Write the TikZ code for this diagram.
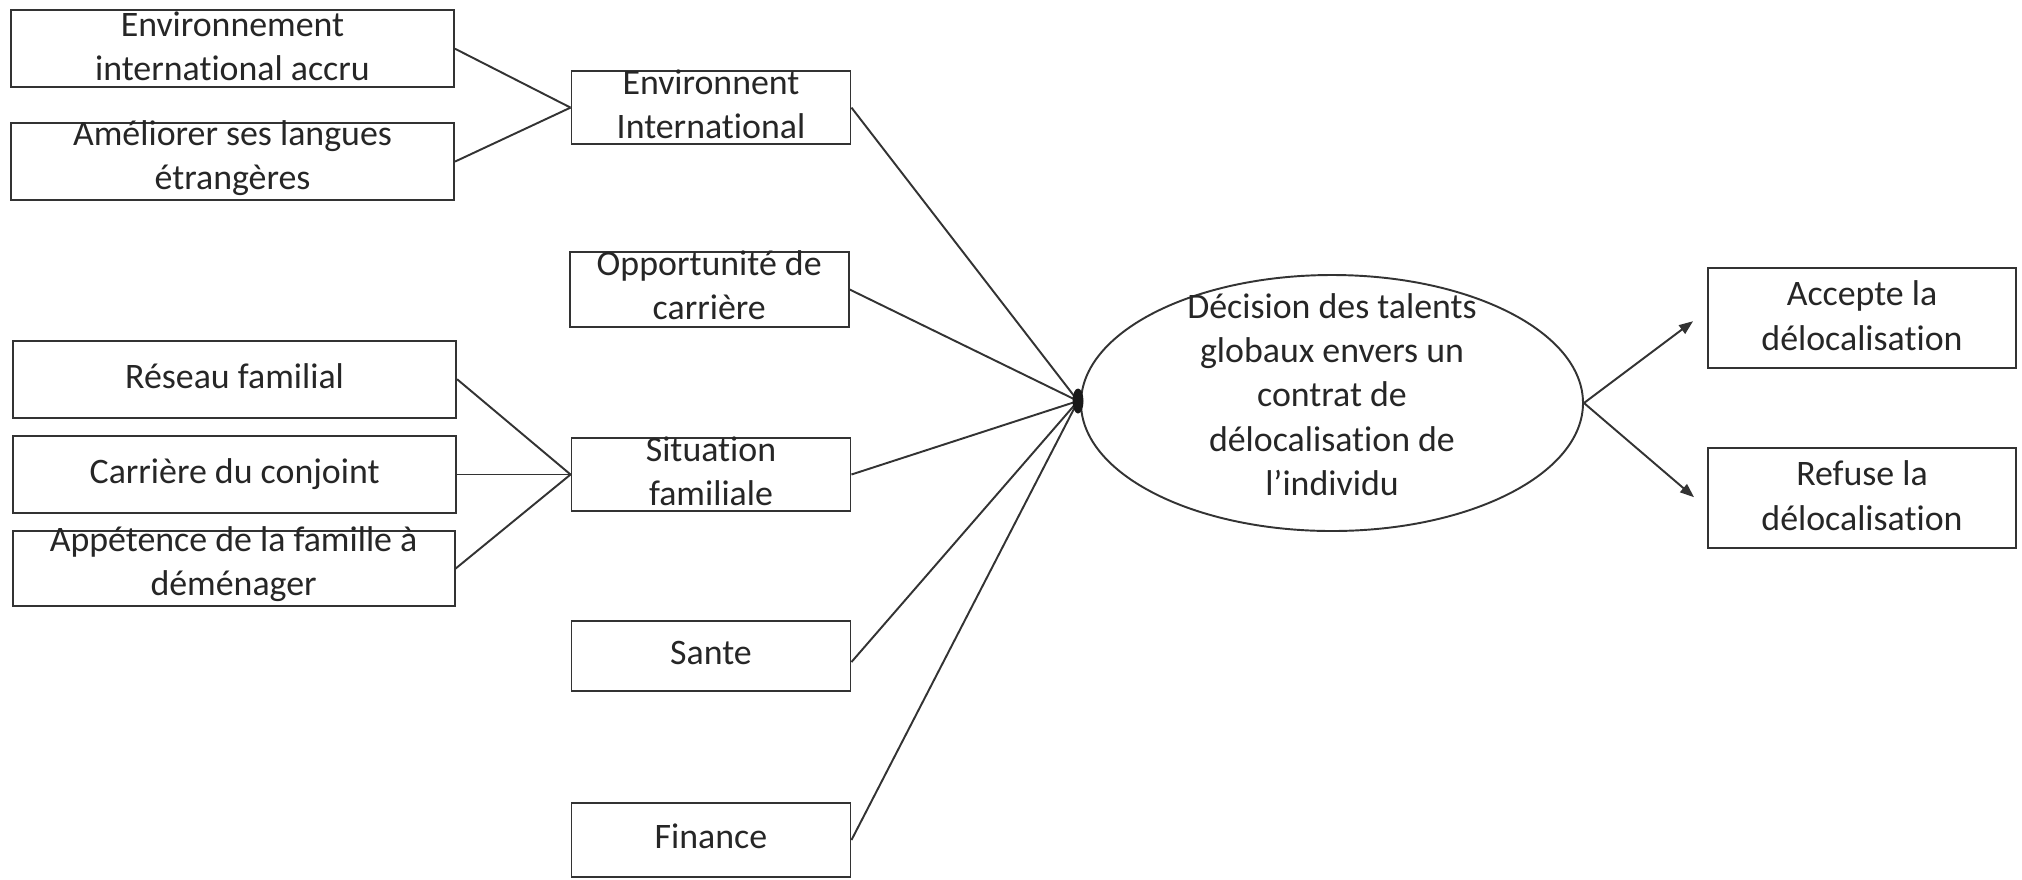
\documentclass[tikz,border=0pt]{standalone}
\usepackage{fontspec}
\setmainfont{Carlito}[Ligatures=NoCommon]
\usetikzlibrary{shapes.geometric,arrows.meta,calc}
\definecolor{ln}{HTML}{333333}
\definecolor{tx}{HTML}{262626}
\begin{document}
\begin{tikzpicture}[x=0.1mm,y=-0.1mm,
  txt/.style={align=center, text=tx, inner sep=0pt, font=\fontsize{10.2pt}{12.6pt}\selectfont,
              execute at begin node=\strut, execute at end node=\strut},
  box/.style={draw=ln, line width=0.55pt, inner sep=0pt},
  wbox/.style={box, minimum width=44.3mm},
  mbox/.style={box, minimum width=27.9mm},
  rbox/.style={box, minimum width=30.8mm, minimum height=9.95mm},
  conn/.style={draw=ln, line width=0.55pt},
  arr/.style={conn, -{Triangle[length=1.4mm,width=1.05mm]}},
]
\useasboundingbox (0,0) rectangle (2022,879);

% left column boxes
\node[wbox, minimum height=7.74mm] (a1) at (232.5,48.7) {};
\node[wbox, minimum height=7.67mm] (a2) at (232.5,161.6) {};
\node[wbox, minimum height=7.68mm] (c1) at (234.6,379.2) {};
\node[wbox, minimum height=7.70mm] (c2) at (234.6,474.5) {};
\node[wbox, minimum width=44.2mm, minimum height=7.46mm] (c3) at (233.6,568.6) {};
\node[txt] (a1t) at ($(a1.center)+(0,4)$) {Environnement\\international accru};
\node[txt] (a2t) at (a2.center) {Améliorer ses langues\\étrangères};
\node[txt] (c1t) at (c1.center) {Réseau familial};
\node[txt] (c2t) at (c2.center) {Carrière du conjoint};
\node[txt] (c3t) at ($(c3.center)+(0,-1)$) {Appétence de la famille à\\déménager};

% middle column boxes
\node[mbox, minimum height=7.28mm] (b1) at (711,107.6) {};
\node[mbox, minimum height=7.46mm] (b2) at (709.2,289.5) {};
\node[mbox, minimum height=7.23mm] (b3) at (711,474.5) {};
\node[mbox, minimum height=7.00mm] (b4) at (711,656) {};
\node[mbox, minimum height=7.43mm] (b5) at (711,840) {};
\node[txt] (b1t) at ($(b1.center)+(0,3)$) {Environnent\\International};
\node[txt] (b2t) at ($(b2.center)+(0,2.5)$) {Opportunité de\\carrière};
\node[txt] (b3t) at ($(b3.center)+(0,3)$) {Situation\\familiale};
\node[txt] (b4t) at (b4.center) {Sante};
\node[txt] (b5t) at (b5.center) {Finance};

% central ellipse
\node[draw=ln, line width=0.55pt, ellipse, minimum width=50.2mm, minimum height=25.6mm, inner sep=0pt] (ell) at (1332,403) {};
\node[txt] (elltext) at ($(ell.center)+(0,-2)$) {Décision des talents\\globaux envers un\\contrat de\\délocalisation de\\l’individu};

% right column
\node[rbox] (d1) at (1862,318.2) {};
\node[rbox] (d2) at (1862,498.2) {};
\node[txt] (d1t) at ($(d1.center)+(0,4)$) {Accepte la\\délocalisation};
\node[txt] (d2t) at ($(d2.center)+(0,4)$) {Refuse la\\délocalisation};

% connectors left -> middle
\draw[conn] (a1.east) -- (b1.west);
\draw[conn] (a2.east) -- (b1.west);
\draw[conn] (c1.east) -- (b3.west);
\draw[conn] (c2.east) -- (b3.west);
\draw[conn] (c3.east) -- (b3.west);

% hub where the factors converge
\coordinate (hubc) at (1078,401);
\draw[conn] (b1.east) -- (hubc);
\draw[conn] (b2.east) -- (hubc);
\draw[conn] (b3.east) -- (hubc);
\draw[conn] ($(b4.east)+(0,6)$) -- (hubc);
\draw[conn] (b5.east) -- (hubc);
\node[fill=black!90, ellipse, minimum width=1.1mm, minimum height=2.5mm, inner sep=0pt] (hub) at (hubc) {};

% ellipse -> outcomes
\draw[arr] (ell.east) -- ($(d1.west)+(-14,3)$);
\draw[arr] (ell.east) -- ($(d2.west)+(-13,-1)$);
\end{tikzpicture}
\end{document}
